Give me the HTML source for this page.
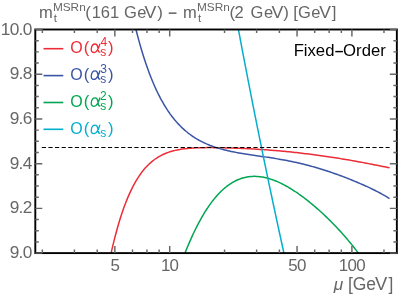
<!DOCTYPE html>
<html><head><meta charset="utf-8"><title>plot</title>
<style>html,body{margin:0;padding:0;background:#fff;}body{width:399px;height:295px;overflow:hidden;font-family:"Liberation Sans",sans-serif;}</style>
</head><body>
<svg width="399" height="295" viewBox="0 0 399 295" style="display:block;will-change:transform;opacity:0.999">
<rect width="399" height="295" fill="#fff"/>
<defs><clipPath id="c"><rect x="35.3" y="29.5" width="361.55" height="223.6"/></clipPath></defs>
<g clip-path="url(#c)" fill="none" stroke-width="1.5" stroke-linejoin="round">
<path d="M110.30,256.76 L112.06,248.94 L113.81,241.61 L115.57,234.72 L117.33,228.26 L119.08,222.22 L120.84,216.55 L122.60,211.26 L124.35,206.31 L126.11,201.68 L127.87,197.37 L129.62,193.35 L131.38,189.60 L133.13,186.11 L134.89,182.87 L136.65,179.86 L138.40,177.07 L140.16,174.48 L141.92,172.08 L143.67,169.86 L145.43,167.81 L147.19,165.92 L148.94,164.18 L150.70,162.58 L152.46,161.10 L154.21,159.75 L155.97,158.51 L157.73,157.37 L159.48,156.33 L161.24,155.38 L163.00,154.52 L164.75,153.73 L166.51,153.02 L168.26,152.37 L170.02,151.79 L171.78,151.26 L173.53,150.79 L175.29,150.36 L177.05,149.98 L178.80,149.64 L180.56,149.34 L182.32,149.07 L184.07,148.83 L185.83,148.63 L187.59,148.44 L189.34,148.29 L191.10,148.15 L192.86,148.03 L194.61,147.93 L196.37,147.85 L198.13,147.78 L199.88,147.73 L201.64,147.69 L203.39,147.65 L205.15,147.63 L206.91,147.62 L208.66,147.61 L210.42,147.62 L212.18,147.62 L213.93,147.64 L215.69,147.66 L217.45,147.69 L219.20,147.72 L220.96,147.75 L222.72,147.79 L224.47,147.83 L226.23,147.88 L227.99,147.93 L229.74,147.98 L231.50,148.04 L233.26,148.10 L235.01,148.16 L236.77,148.22 L238.52,148.29 L240.28,148.37 L242.04,148.44 L243.79,148.52 L245.55,148.60 L247.31,148.69 L249.06,148.78 L250.82,148.87 L252.58,148.97 L254.33,149.06 L256.09,149.17 L257.85,149.27 L259.60,149.39 L261.36,149.50 L263.12,149.62 L264.87,149.74 L266.63,149.87 L268.39,150.00 L270.14,150.13 L271.90,150.27 L273.65,150.41 L275.41,150.56 L277.17,150.71 L278.92,150.86 L280.68,151.02 L282.44,151.18 L284.19,151.35 L285.95,151.52 L287.71,151.69 L289.46,151.87 L291.22,152.06 L292.98,152.24 L294.73,152.43 L296.49,152.62 L298.25,152.82 L300.00,153.02 L301.76,153.23 L303.52,153.44 L305.27,153.65 L307.03,153.86 L308.78,154.08 L310.54,154.31 L312.30,154.53 L314.05,154.76 L315.81,154.99 L317.57,155.23 L319.32,155.47 L321.08,155.71 L322.84,155.96 L324.59,156.21 L326.35,156.46 L328.11,156.72 L329.86,156.98 L331.62,157.24 L333.38,157.51 L335.13,157.78 L336.89,158.06 L338.65,158.33 L340.40,158.62 L342.16,158.90 L343.91,159.19 L345.67,159.48 L347.43,159.78 L349.18,160.08 L350.94,160.38 L352.70,160.69 L354.45,161.00 L356.21,161.32 L357.97,161.64 L359.72,161.96 L361.48,162.29 L363.24,162.62 L364.99,162.95 L366.75,163.29 L368.51,163.63 L370.26,163.97 L372.02,164.31 L373.78,164.66 L375.53,165.00 L377.29,165.35 L379.04,165.70 L380.80,166.05 L382.56,166.40 L384.31,166.74 L386.07,167.09 L387.83,167.43 L389.58,167.76" stroke="#EC2D37"/>
<path d="M135.00,25.64 L136.60,32.02 L138.20,38.11 L139.80,43.92 L141.40,49.45 L143.01,54.72 L144.61,59.74 L146.21,64.53 L147.81,69.09 L149.41,73.43 L151.01,77.57 L152.61,81.50 L154.21,85.25 L155.82,88.82 L157.42,92.22 L159.02,95.45 L160.62,98.53 L162.22,101.45 L163.82,104.24 L165.42,106.88 L167.02,109.40 L168.62,111.80 L170.23,114.08 L171.83,116.24 L173.43,118.30 L175.03,120.26 L176.63,122.12 L178.23,123.88 L179.83,125.56 L181.43,127.16 L183.03,128.68 L184.64,130.12 L186.24,131.49 L187.84,132.79 L189.44,134.02 L191.04,135.20 L192.64,136.31 L194.24,137.37 L195.84,138.38 L197.45,139.33 L199.05,140.24 L200.65,141.10 L202.25,141.92 L203.85,142.70 L205.45,143.43 L207.05,144.14 L208.65,144.80 L210.25,145.44 L211.86,146.04 L213.46,146.61 L215.06,147.16 L216.66,147.68 L218.26,148.18 L219.86,148.65 L221.46,149.10 L223.06,149.53 L224.66,149.94 L226.27,150.33 L227.87,150.71 L229.47,151.06 L231.07,151.41 L232.67,151.74 L234.27,152.06 L235.87,152.37 L237.47,152.66 L239.08,152.95 L240.68,153.23 L242.28,153.50 L243.88,153.76 L245.48,154.02 L247.08,154.27 L248.68,154.52 L250.28,154.76 L251.88,155.00 L253.49,155.24 L255.09,155.48 L256.69,155.71 L258.29,155.94 L259.89,156.17 L261.49,156.41 L263.09,156.64 L264.69,156.88 L266.29,157.12 L267.90,157.36 L269.50,157.60 L271.10,157.85 L272.70,158.10 L274.30,158.36 L275.90,158.62 L277.50,158.88 L279.10,159.15 L280.71,159.43 L282.31,159.71 L283.91,160.01 L285.51,160.30 L287.11,160.61 L288.71,160.92 L290.31,161.24 L291.91,161.57 L293.51,161.90 L295.12,162.25 L296.72,162.60 L298.32,162.96 L299.92,163.33 L301.52,163.71 L303.12,164.09 L304.72,164.49 L306.32,164.90 L307.92,165.31 L309.53,165.74 L311.13,166.17 L312.73,166.61 L314.33,167.06 L315.93,167.52 L317.53,167.99 L319.13,168.47 L320.73,168.96 L322.34,169.46 L323.94,169.96 L325.54,170.48 L327.14,171.00 L328.74,171.53 L330.34,172.07 L331.94,172.62 L333.54,173.17 L335.14,173.74 L336.75,174.31 L338.35,174.89 L339.95,175.48 L341.55,176.07 L343.15,176.67 L344.75,177.28 L346.35,177.90 L347.95,178.53 L349.55,179.16 L351.16,179.80 L352.76,180.45 L354.36,181.11 L355.96,181.77 L357.56,182.45 L359.16,183.13 L360.76,183.82 L362.36,184.52 L363.97,185.23 L365.57,185.95 L367.17,186.68 L368.77,187.42 L370.37,188.18 L371.97,188.95 L373.57,189.73 L375.17,190.53 L376.77,191.34 L378.38,192.18 L379.98,193.03 L381.58,193.90 L383.18,194.80 L384.78,195.72 L386.38,196.67 L387.98,197.65 L389.58,198.65" stroke="#3A55A5"/>
<path d="M184.60,254.12 L185.70,251.34 L186.80,248.63 L187.89,245.97 L188.99,243.37 L190.09,240.83 L191.19,238.35 L192.29,235.93 L193.38,233.56 L194.48,231.25 L195.58,229.00 L196.68,226.81 L197.78,224.67 L198.88,222.58 L199.97,220.55 L201.07,218.57 L202.17,216.65 L203.27,214.78 L204.37,212.96 L205.46,211.19 L206.56,209.48 L207.66,207.81 L208.76,206.20 L209.86,204.63 L210.95,203.11 L212.05,201.65 L213.15,200.23 L214.25,198.85 L215.35,197.53 L216.45,196.25 L217.54,195.01 L218.64,193.82 L219.74,192.68 L220.84,191.58 L221.94,190.52 L223.03,189.51 L224.13,188.54 L225.23,187.61 L226.33,186.72 L227.43,185.87 L228.52,185.07 L229.62,184.30 L230.72,183.57 L231.82,182.88 L232.92,182.23 L234.02,181.62 L235.11,181.04 L236.21,180.50 L237.31,179.99 L238.41,179.53 L239.51,179.09 L240.60,178.69 L241.70,178.32 L242.80,177.99 L243.90,177.69 L245.00,177.42 L246.09,177.19 L247.19,176.98 L248.29,176.80 L249.39,176.66 L250.49,176.55 L251.58,176.46 L252.68,176.40 L253.78,176.37 L254.88,176.37 L255.98,176.40 L257.08,176.45 L258.17,176.53 L259.27,176.63 L260.37,176.76 L261.47,176.92 L262.57,177.09 L263.66,177.30 L264.76,177.52 L265.86,177.77 L266.96,178.04 L268.06,178.34 L269.15,178.65 L270.25,178.99 L271.35,179.35 L272.45,179.72 L273.55,180.12 L274.65,180.54 L275.74,180.98 L276.84,181.43 L277.94,181.91 L279.04,182.40 L280.14,182.91 L281.23,183.44 L282.33,183.98 L283.43,184.55 L284.53,185.12 L285.63,185.72 L286.72,186.33 L287.82,186.96 L288.92,187.60 L290.02,188.25 L291.12,188.92 L292.22,189.61 L293.31,190.31 L294.41,191.02 L295.51,191.75 L296.61,192.48 L297.71,193.24 L298.80,194.00 L299.90,194.78 L301.00,195.57 L302.10,196.38 L303.20,197.19 L304.29,198.02 L305.39,198.86 L306.49,199.71 L307.59,200.57 L308.69,201.44 L309.78,202.33 L310.88,203.23 L311.98,204.13 L313.08,205.05 L314.18,205.98 L315.28,206.92 L316.37,207.87 L317.47,208.83 L318.57,209.80 L319.67,210.79 L320.77,211.78 L321.86,212.78 L322.96,213.80 L324.06,214.82 L325.16,215.86 L326.26,216.91 L327.35,217.97 L328.45,219.04 L329.55,220.12 L330.65,221.21 L331.75,222.31 L332.85,223.43 L333.94,224.55 L335.04,225.69 L336.14,226.84 L337.24,228.01 L338.34,229.18 L339.43,230.37 L340.53,231.57 L341.63,232.78 L342.73,234.01 L343.83,235.25 L344.92,236.51 L346.02,237.77 L347.12,239.06 L348.22,240.36 L349.32,241.67 L350.42,243.00 L351.51,244.35 L352.61,245.71 L353.71,247.09 L354.81,248.49 L355.91,249.90 L357.00,251.33 L358.10,252.79 L359.20,254.26" stroke="#00A651"/>
<path d="M237.97,27.00 L239.07,32.87 L240.17,38.74 L241.27,44.62 L242.38,50.49 L243.50,56.36 L244.62,62.23 L245.75,68.10 L246.88,73.97 L248.02,79.85 L249.16,85.72 L250.31,91.59 L251.46,97.46 L252.62,103.33 L253.78,109.21 L254.95,115.08 L256.12,120.95 L257.30,126.82 L258.49,132.69 L259.68,138.56 L260.87,144.44 L262.07,150.31 L263.28,156.18 L264.49,162.05 L265.70,167.92 L266.92,173.79 L268.15,179.67 L269.38,185.54 L270.62,191.41 L271.86,197.28 L273.10,203.15 L274.36,209.03 L275.61,214.90 L276.88,220.77 L278.14,226.64 L279.42,232.51 L280.69,238.38 L281.98,244.26 L283.27,250.13 L284.56,256.00" stroke="#04AECE"/>
</g>
<line x1="41.8" y1="147.5" x2="389.58" y2="147.5" stroke="#000" stroke-width="1.15" stroke-dasharray="4.2 2.412"/>
<rect x="35.3" y="29.5" width="361.55" height="223.6" fill="none" stroke="#000" stroke-width="1.9"/>
<path d="M114.85,253.1v-7.0M114.85,29.5v7.0M169.70,253.1v-7.0M169.70,29.5v7.0M297.05,253.1v-7.0M297.05,29.5v7.0M351.90,253.1v-7.0M351.90,29.5v7.0M42.35,253.1v-3.6M42.35,29.5v3.6M74.43,253.1v-3.6M74.43,29.5v3.6M97.20,253.1v-3.6M97.20,29.5v3.6M132.51,253.1v-3.6M132.51,29.5v3.6M146.94,253.1v-3.6M146.94,29.5v3.6M159.13,253.1v-3.6M159.13,29.5v3.6M224.55,253.1v-3.6M224.55,29.5v3.6M256.63,253.1v-3.6M256.63,29.5v3.6M279.40,253.1v-3.6M279.40,29.5v3.6M314.71,253.1v-3.6M314.71,29.5v3.6M329.14,253.1v-3.6M329.14,29.5v3.6M341.33,253.1v-3.6M341.33,29.5v3.6M383.98,253.1v-3.6M383.98,29.5v3.6M35.3,253.10h7.0M396.85,253.10h-7.0M35.3,241.92h3.45M396.85,241.92h-3.45M35.3,230.74h3.45M396.85,230.74h-3.45M35.3,219.56h3.45M396.85,219.56h-3.45M35.3,208.38h7.0M396.85,208.38h-7.0M35.3,197.20h3.45M396.85,197.20h-3.45M35.3,186.02h3.45M396.85,186.02h-3.45M35.3,174.84h3.45M396.85,174.84h-3.45M35.3,163.66h7.0M396.85,163.66h-7.0M35.3,152.48h3.45M396.85,152.48h-3.45M35.3,141.30h3.45M396.85,141.30h-3.45M35.3,130.12h3.45M396.85,130.12h-3.45M35.3,118.94h7.0M396.85,118.94h-7.0M35.3,107.76h3.45M396.85,107.76h-3.45M35.3,96.58h3.45M396.85,96.58h-3.45M35.3,85.40h3.45M396.85,85.40h-3.45M35.3,74.22h7.0M396.85,74.22h-7.0M35.3,63.04h3.45M396.85,63.04h-3.45M35.3,51.86h3.45M396.85,51.86h-3.45M35.3,40.68h3.45M396.85,40.68h-3.45M35.3,29.50h7.0M396.85,29.50h-7.0" stroke="#666666" stroke-width="1.45" fill="none"/>
<g font-family="Liberation Sans, sans-serif" font-size="16.0" fill="#666666">
<text transform="translate(31.6,258.20) scale(1.08,1)" letter-spacing="-0.65" text-anchor="end">9.0</text>
<text transform="translate(31.6,213.48) scale(1.08,1)" letter-spacing="-0.65" text-anchor="end">9.2</text>
<text transform="translate(31.6,168.76) scale(1.08,1)" letter-spacing="-0.65" text-anchor="end">9.4</text>
<text transform="translate(31.6,124.04) scale(1.08,1)" letter-spacing="-0.65" text-anchor="end">9.6</text>
<text transform="translate(31.6,79.32) scale(1.08,1)" letter-spacing="-0.65" text-anchor="end">9.8</text>
<text transform="translate(31.6,34.60) scale(1.08,1)" letter-spacing="-0.65" text-anchor="end">10.0</text>
<text transform="translate(114.75,271) scale(1.06,1)" letter-spacing="-0.7" text-anchor="middle">5</text>
<text transform="translate(169.60,271) scale(1.06,1)" letter-spacing="-0.7" text-anchor="middle">10</text>
<text transform="translate(296.95,271) scale(1.06,1)" letter-spacing="-0.7" text-anchor="middle">50</text>
<text transform="translate(351.80,271) scale(1.06,1)" letter-spacing="-0.7" text-anchor="middle">100</text>
<text x="333.86" y="290.20" font-size="17.3" font-style="italic">μ</text>
<text x="348.05" y="290.20" font-size="17.5">[</text>
<text x="352.82" y="290.20" font-size="17.5">G</text>
<text x="366.26" y="290.20" font-size="17.5">e</text>
<text x="374.92" y="290.20" font-size="17.5" transform="translate(375.00,0) scale(1.05,1) translate(-375.00,0)">V</text>
<text x="388.56" y="290.20" font-size="17.5">]</text>
<text x="38.90" y="17.65" font-size="16.5">m</text>
<text x="52.93" y="11.35" font-size="11.8">MSRn</text>
<text x="53.83" y="21.80" font-size="11.5">t</text>
<text x="85.15" y="17.80" font-size="16.9">(</text>
<text x="91.64" y="17.65" font-size="16.5">161</text>
<text x="124.07" y="17.65" font-size="16.5">G</text>
<text x="137.30" y="17.65" font-size="16.5">e</text>
<text x="144.63" y="17.65" font-size="16.5" transform="translate(144.70,0) scale(1.08,1) translate(-144.70,0)">V</text>
<text x="157.20" y="17.80" font-size="16.9">)</text>
<line x1="168.7" y1="13.15" x2="176.5" y2="13.15" stroke="#5c5c5c" stroke-width="1.45"/>
<text x="183.00" y="17.65" font-size="16.5">m</text>
<text x="197.03" y="11.35" font-size="11.8">MSRn</text>
<text x="197.93" y="21.80" font-size="11.5">t</text>
<text x="229.45" y="17.80" font-size="16.9">(</text>
<text x="234.57" y="17.65" font-size="16.5">2</text>
<text x="250.57" y="17.65" font-size="16.5">G</text>
<text x="264.10" y="17.65" font-size="16.5">e</text>
<text x="271.53" y="17.65" font-size="16.5" transform="translate(271.60,0) scale(1.08,1) translate(-271.60,0)">V</text>
<text x="283.30" y="17.80" font-size="16.9">)</text>
<text x="293.20" y="17.80" font-size="16.9">[</text>
<text x="298.07" y="17.65" font-size="16.5">G</text>
<text x="311.20" y="17.65" font-size="16.5">e</text>
<text x="319.23" y="17.65" font-size="16.5" transform="translate(319.30,0) scale(1.06,1) translate(-319.30,0)">V</text>
<text x="331.87" y="17.80" font-size="16.9">]</text>
</g>
<g font-family="Liberation Sans, sans-serif" font-size="16.0" fill="#000">
<text x="293.63" y="55.90" font-size="16.7">Fixed</text>
<line x1="335.3" y1="51.6" x2="342.9" y2="51.6" stroke="#000" stroke-width="1.45"/>
<text x="343.11" y="55.90" font-size="16.7">Order</text>
</g>
<g font-family="Liberation Sans, sans-serif" font-size="16.0">
<line x1="43.5" y1="48.7" x2="63.3" y2="48.7" stroke="#EC2D37" stroke-width="1.6"/>
<g fill="#EC2D37">
<text x="70.34" y="53.20">O</text>
<text x="83.87" y="52.90" font-size="16.6">(</text>
<path transform="translate(84,52.90)" d="M15.8,-8.8 C15.2,-6.5 13.6,-2.6 12.0,-1.2 C11.2,-0.6 10.4,-0.4 9.7,-0.4 C7.9,-0.4 7.0,-2.0 7.3,-4.2 C7.6,-6.8 9.1,-8.9 11.2,-8.9 C13.0,-8.9 13.6,-7.2 13.9,-5.2 C14.1,-3.6 14.2,-2.2 14.6,-1.4 C14.9,-0.8 15.3,-0.6 15.9,-0.8" fill="none" stroke="#EC2D37" stroke-width="1.35" stroke-linecap="round"/>
<text x="100.42" y="46.20" font-size="12.0">4</text>
<text x="100.37" y="56.30" font-size="12.0">s</text>
<text x="108.10" y="52.70" font-size="16.6">)</text>
</g>
<line x1="43.5" y1="75.6" x2="63.3" y2="75.6" stroke="#3A55A5" stroke-width="1.6"/>
<g fill="#3A55A5">
<text x="70.34" y="80.10">O</text>
<text x="83.87" y="79.80" font-size="16.6">(</text>
<path transform="translate(84,79.80)" d="M15.8,-8.8 C15.2,-6.5 13.6,-2.6 12.0,-1.2 C11.2,-0.6 10.4,-0.4 9.7,-0.4 C7.9,-0.4 7.0,-2.0 7.3,-4.2 C7.6,-6.8 9.1,-8.9 11.2,-8.9 C13.0,-8.9 13.6,-7.2 13.9,-5.2 C14.1,-3.6 14.2,-2.2 14.6,-1.4 C14.9,-0.8 15.3,-0.6 15.9,-0.8" fill="none" stroke="#3A55A5" stroke-width="1.35" stroke-linecap="round"/>
<text x="100.24" y="73.10" font-size="12.0">3</text>
<text x="100.37" y="83.20" font-size="12.0">s</text>
<text x="108.10" y="79.60" font-size="16.6">)</text>
</g>
<line x1="43.5" y1="102.5" x2="63.3" y2="102.5" stroke="#00A651" stroke-width="1.6"/>
<g fill="#00A651">
<text x="70.34" y="107.00">O</text>
<text x="83.87" y="106.70" font-size="16.6">(</text>
<path transform="translate(84,106.70)" d="M15.8,-8.8 C15.2,-6.5 13.6,-2.6 12.0,-1.2 C11.2,-0.6 10.4,-0.4 9.7,-0.4 C7.9,-0.4 7.0,-2.0 7.3,-4.2 C7.6,-6.8 9.1,-8.9 11.2,-8.9 C13.0,-8.9 13.6,-7.2 13.9,-5.2 C14.1,-3.6 14.2,-2.2 14.6,-1.4 C14.9,-0.8 15.3,-0.6 15.9,-0.8" fill="none" stroke="#00A651" stroke-width="1.35" stroke-linecap="round"/>
<text x="100.10" y="100.00" font-size="12.0">2</text>
<text x="100.37" y="110.10" font-size="12.0">s</text>
<text x="108.10" y="106.50" font-size="16.6">)</text>
</g>
<line x1="43.5" y1="129.3" x2="63.3" y2="129.3" stroke="#04AECE" stroke-width="1.6"/>
<g fill="#04AECE">
<text x="70.34" y="134.30">O</text>
<text x="83.87" y="134.00" font-size="16.6">(</text>
<path transform="translate(84,134.00)" d="M15.8,-8.8 C15.2,-6.5 13.6,-2.6 12.0,-1.2 C11.2,-0.6 10.4,-0.4 9.7,-0.4 C7.9,-0.4 7.0,-2.0 7.3,-4.2 C7.6,-6.8 9.1,-8.9 11.2,-8.9 C13.0,-8.9 13.6,-7.2 13.9,-5.2 C14.1,-3.6 14.2,-2.2 14.6,-1.4 C14.9,-0.8 15.3,-0.6 15.9,-0.8" fill="none" stroke="#04AECE" stroke-width="1.35" stroke-linecap="round"/>
<text x="100.37" y="137.40" font-size="12.0">s</text>
<text x="108.10" y="133.80" font-size="16.6">)</text>
</g>
</g>
</svg>
</body></html>
